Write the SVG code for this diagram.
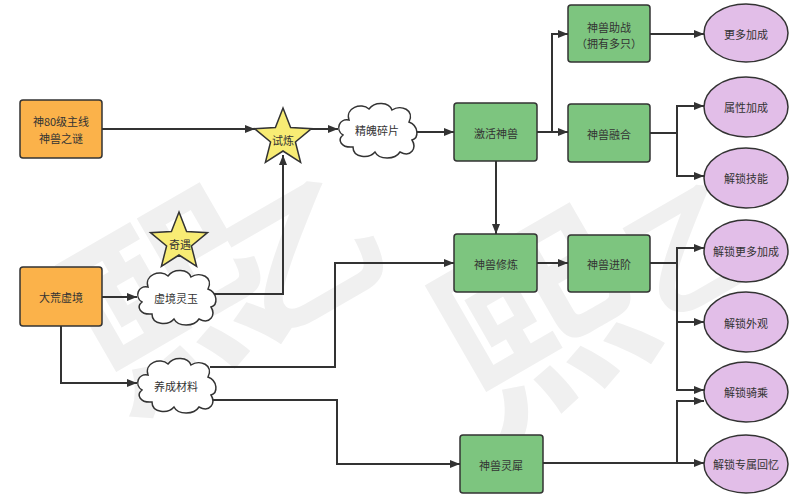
<svg xmlns="http://www.w3.org/2000/svg" width="809" height="500" viewBox="0 0 809 500">
<style>
.wm{font-family:"Noto Sans CJK SC","Noto Sans",sans-serif;fill:#f0f0f0;font-weight:700;text-anchor:middle;dominant-baseline:central}
.box{stroke:#333;stroke-width:1.5}
.org{fill:#FBB24A}
.grn{fill:#7DC57F}
.pur{fill:#E2BEE8;stroke:#333;stroke-width:1.5}
.cld{fill:#fff;stroke:#333;stroke-width:1.5}
.star{fill:#F8EC74;stroke:#333;stroke-width:1.5;stroke-linejoin:miter}
.t{font-family:"Noto Sans CJK SC","Noto Sans",sans-serif;font-size:11px;fill:#333;text-anchor:middle;dominant-baseline:central}
.ln{fill:none;stroke:#333;stroke-width:2}
.ar{marker-end:url(#ah)}
</style>
<defs>
<marker id="ah" viewBox="0 0 10 8" refX="10" refY="4" markerWidth="10" markerHeight="8" markerUnits="userSpaceOnUse" orient="auto">
<path d="M0,0 L10,4 L0,8 Z" fill="#333"/>
</marker>
<path id="cloud" d="M12,18 C8,6 24,0 32,7 C38,-1 52,0 55,8 C64,2 78,8 72,20 C82,24 82,36 75,38 C80,46 74,56 63,50 C58,58 42,58 38,50 C32,57 16,56 16,45 C4,46 0,38 6,33 C-2,28 2,16 12,18 Z"/>
</defs>
<g id="watermark">
<text class="wm" x="165" y="290" font-size="200" transform="rotate(-30 165 290)">熙</text>
<text class="wm" x="300" y="245" font-size="150" transform="rotate(-30 300 245)">乙</text>
<text class="wm" x="535" y="310" font-size="200" transform="rotate(-30 535 310)">熙</text>
<text class="wm" x="690" y="240" font-size="130" transform="rotate(-30 690 240)">乙</text>
</g>
<g id="connectors">
<path class="ln ar" d="M102,129 H255"/>
<path class="ln ar" d="M311,129 H338"/>
<path class="ln ar" d="M414,132 H454"/>
<path class="ln ar" d="M496,161 V234"/>
<path class="ln ar" d="M537,132 H568"/>
<path class="ln ar" d="M552,132 V34 H568"/>
<path class="ln ar" d="M650,34 H704"/>
<path class="ln" d="M650,133 H677"/>
<path class="ln ar" d="M677,133 V106 H704"/>
<path class="ln ar" d="M677,133 V176 H704"/>
<path class="ln ar" d="M537,263 H568"/>
<path class="ln" d="M650,263 H677"/>
<path class="ln ar" d="M677,263 V248 H704"/>
<path class="ln ar" d="M677,263 V322 H704"/>
<path class="ln ar" d="M677,263 V390 H704"/>
<path class="ln ar" d="M543,463 H704"/>
<path class="ln ar" d="M677,463 V401 H704"/>
<path class="ln ar" d="M210,294 H283 V155"/>
<path class="ln ar" d="M102,297 H137"/>
<path class="ln ar" d="M61,326 V383 H137"/>
<path class="ln ar" d="M210,367 H335 V263 H454"/>
<path class="ln ar" d="M210,400 H337 V464 H460"/>
</g>
<g id="n-main80">
<rect class="box org" x="20" y="100" width="82" height="58" rx="3"/>
<text class="t" x="61" y="121">神80级主线</text>
<text class="t" x="61" y="138">神兽之谜</text>
</g>
<g id="n-dahuang">
<rect class="box org" x="20" y="267" width="82" height="59" rx="3"/>
<text class="t" x="61" y="297">大荒虚境</text>
</g>
<g id="n-shilian">
<polygon class="star" points="283,108 290.6,127.5 311.5,128.7 295.4,142 300.6,162.3 283,151 265.4,162.3 270.6,142 254.5,128.7 275.4,127.5"/>
<text class="t" x="283" y="140">试炼</text>
</g>
<g id="n-jingpo">
<use href="#cloud" class="cld" x="337" y="102"/>
<text class="t" x="377" y="130">精魄碎片</text>
</g>
<g id="n-xujing">
<use href="#cloud" class="cld" x="136" y="269"/>
<text class="t" x="176" y="298">虚境灵玉</text>
</g>
<g id="n-qiyu">
<polygon class="star" points="179,212 186.6,231.5 207.5,232.7 191.4,246 196.6,266.3 179,255 161.4,266.3 166.6,246 150.5,232.7 171.4,231.5"/>
<text class="t" x="180" y="244">奇遇</text>
</g>
<g id="n-yangcheng">
<use href="#cloud" class="cld" x="136" y="357"/>
<text class="t" x="176" y="386">养成材料</text>
</g>
<g id="n-jihuo">
<rect class="box grn" x="454" y="103" width="83" height="58" rx="3"/>
<text class="t" x="496" y="133">激活神兽</text>
</g>
<g id="n-xiulian">
<rect class="box grn" x="454" y="234" width="83" height="58" rx="3"/>
<text class="t" x="496" y="264">神兽修炼</text>
</g>
<g id="n-zhuzhan">
<rect class="box grn" x="568" y="5" width="82" height="57" rx="3"/>
<text class="t" x="609" y="27">神兽助战</text>
<text class="t" x="609" y="43">（拥有多只）</text>
</g>
<g id="n-ronghe">
<rect class="box grn" x="568" y="104" width="82" height="58" rx="3"/>
<text class="t" x="609" y="134">神兽融合</text>
</g>
<g id="n-jinjie">
<rect class="box grn" x="568" y="235" width="82" height="57" rx="3"/>
<text class="t" x="609" y="264">神兽进阶</text>
</g>
<g id="n-lingxi">
<rect class="box grn" x="460" y="435" width="83" height="58" rx="3"/>
<text class="t" x="501" y="465">神兽灵犀</text>
</g>
<g id="e-gengduo">
<ellipse class="pur" cx="746" cy="33" rx="42" ry="29"/>
<text class="t" x="746" y="34">更多加成</text>
</g>
<g id="e-shuxing">
<ellipse class="pur" cx="746" cy="107" rx="42" ry="30"/>
<text class="t" x="746" y="107">属性加成</text>
</g>
<g id="e-jineng">
<ellipse class="pur" cx="746" cy="178" rx="42" ry="30"/>
<text class="t" x="746" y="178">解锁技能</text>
</g>
<g id="e-gengduojiacheng">
<ellipse class="pur" cx="746" cy="251" rx="42" ry="31"/>
<text class="t" x="746" y="251">解锁更多加成</text>
</g>
<g id="e-waiguan">
<ellipse class="pur" cx="746" cy="322" rx="42" ry="30"/>
<text class="t" x="746" y="323">解锁外观</text>
</g>
<g id="e-qicheng">
<ellipse class="pur" cx="746" cy="392" rx="42" ry="30"/>
<text class="t" x="746" y="392">解锁骑乘</text>
</g>
<g id="e-huiyi">
<ellipse class="pur" cx="746" cy="464" rx="42" ry="29"/>
<text class="t" x="746" y="464">解锁专属回忆</text>
</g>
</svg>
